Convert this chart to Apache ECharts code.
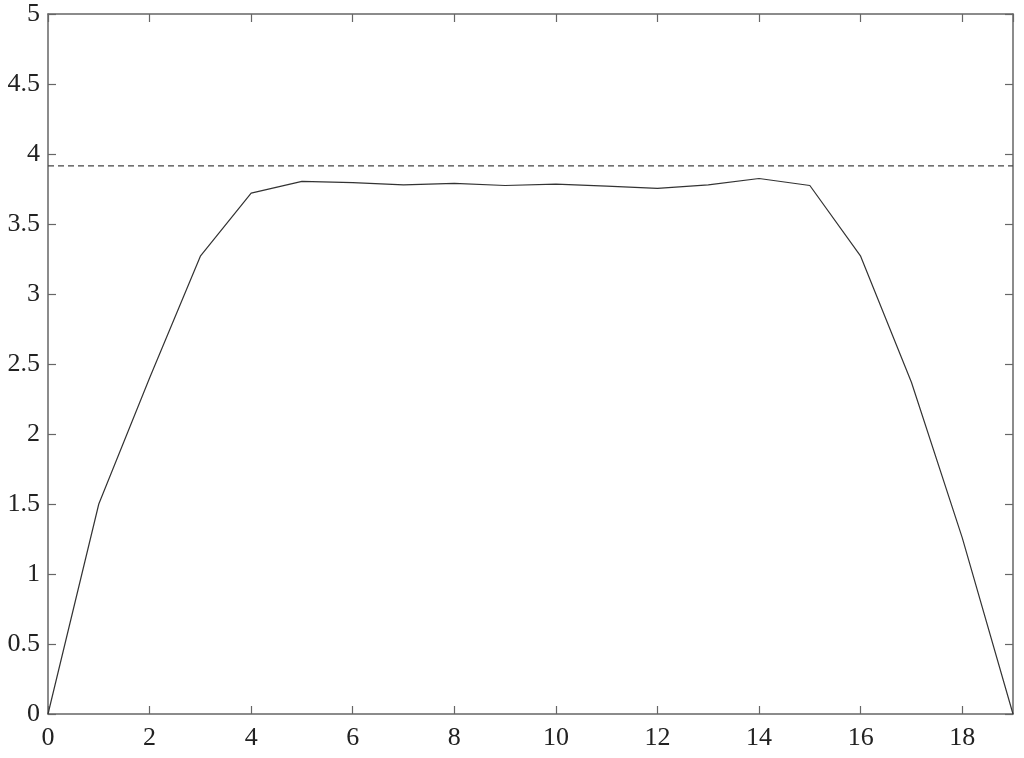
<!DOCTYPE html>
<html>
<head>
<meta charset="utf-8">
<style>
  html, body { margin: 0; padding: 0; background: #fff; }
  #chart { width: 1024px; height: 758px; }
</style>
<script src="https://cdn.jsdelivr.net/npm/echarts@6/dist/echarts.min.js"></script>
</head>
<body>
<div id="chart"></div>
<script>
// values
const xValues = [0, 1, 2, 3, 4, 5, 6, 7, 8, 9, 10, 11, 12, 13, 14, 15, 16, 17, 18, 19];
const yValues = [0, 1.5, 2.4, 3.27, 3.72, 3.805, 3.795, 3.78, 3.79, 3.775, 3.785, 3.77, 3.755, 3.78, 3.825, 3.775, 3.27, 2.37, 1.26, 0];
const limitX = [0, 19];
const limitY = 3.915;

const axisColor = "#666";
const textColor = "#222";
const font = "Liberation Serif";

const chart = echarts.init(document.getElementById("chart"));

function xAxisDef(pos, labels) {
  return {
    type: "value",
    position: pos,
    min: 0,
    max: 19,
    interval: 2,
    axisLine: { show: true, onZero: false, lineStyle: { color: axisColor, width: 1.5 } },
    axisTick: { show: true, inside: true, length: 8, lineStyle: { color: axisColor, width: 1.2 } },
    axisLabel: {
      show: labels,
      showMaxLabel: false,
      color: textColor,
      fontFamily: font,
      fontSize: 26,
      margin: 11,
    },
    splitLine: { show: false },
  };
}

function yAxisDef(pos, labels) {
  return {
    type: "value",
    position: pos,
    min: 0,
    max: 5,
    interval: 0.5,
    axisLine: { show: true, onZero: false, lineStyle: { color: axisColor, width: 1.5 } },
    axisTick: { show: true, inside: true, length: 8, lineStyle: { color: axisColor, width: 1.2 } },
    axisLabel: {
      show: labels,
      color: textColor,
      fontFamily: font,
      fontSize: 26,
      margin: 8,
    },
    splitLine: { show: false },
  };
}

const option = {
  animation: false,
  backgroundColor: "#fff",
  grid: { left: 48, right: 11, top: 14, bottom: 44, containLabel: false },
  xAxis: [xAxisDef("bottom", true), xAxisDef("top", false)],
  yAxis: [yAxisDef("left", true), yAxisDef("right", false)],
  series: [
    {
      type: "line",
      data: xValues.map((x, i) => [x, yValues[i]]),
      showSymbol: false,
      lineStyle: { color: "#333", width: 1.2 },
    },
    {
      type: "line",
      data: limitX.map((x) => [x, limitY]),
      showSymbol: false,
      lineStyle: { color: "#444", width: 1.1, type: [6, 4] },
    },
  ],
};

chart.setOption(option);
</script>
</body>
</html>
